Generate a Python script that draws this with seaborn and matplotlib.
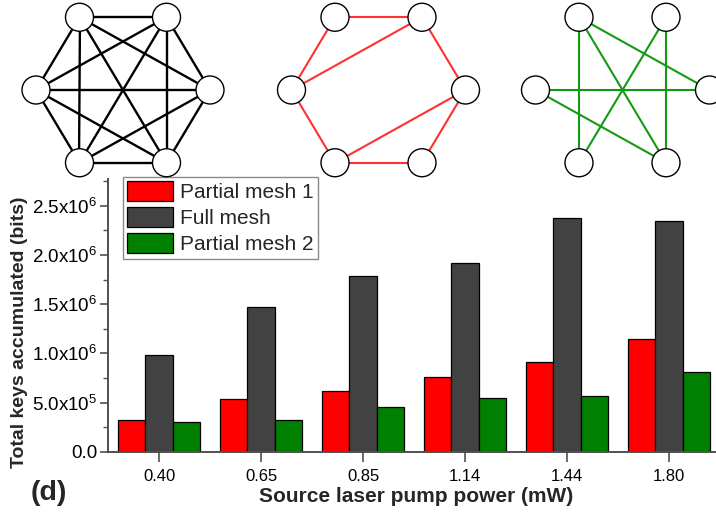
import itertools
import numpy as np
import pandas as pd
import matplotlib
matplotlib.use("Agg")
import matplotlib.pyplot as plt
from matplotlib.patches import Circle
from matplotlib.ticker import MultipleLocator
import seaborn as sns

# ---- data -------------------------------------------------------------
powers = ["0.40", "0.65", "0.85", "1.14", "1.44", "1.80"]
partial_mesh_1 = [3.2e5, 5.4e5, 6.2e5, 7.6e5, 9.1e5, 1.15e6]
full_mesh = [9.8e5, 1.47e6, 1.79e6, 1.92e6, 2.37e6, 2.34e6]
partial_mesh_2 = [3.0e5, 3.2e5, 4.6e5, 5.5e5, 5.7e5, 8.1e5]

series_names = ["Partial mesh 1", "Full mesh", "Partial mesh 2"]
series_colors = ["#ff0000", "#424242", "#008000"]

y_ticks = [0, 5e5, 1e6, 1.5e6, 2e6, 2.5e6]
y_tick_labels = ["0.0", r"5.0x10$^{5}$", r"1.0x10$^{6}$", r"1.5x10$^{6}$",
                 r"2.0x10$^{6}$", r"2.5x10$^{6}$"]

# network topologies; nodes: 0 top-left, 1 top-right, 2 left, 3 right,
# 4 bottom-left, 5 bottom-right
full_edges = list(itertools.combinations(range(6), 2))
partial1_edges = [(0, 1), (0, 2), (2, 1), (1, 3), (2, 4), (4, 3), (4, 5), (5, 3)]
partial2_edges = [(0, 3), (0, 4), (0, 5), (1, 4), (1, 5), (2, 3), (2, 5)]
node_angles_deg = [120, 60, 180, 0, 240, 300]

# ---- style ------------------------------------------------------------
sns.set_style("ticks")
plt.rcParams["font.family"] = ["Liberation Sans", "DejaVu Sans"]
plt.rcParams["mathtext.fontset"] = "custom"
plt.rcParams["mathtext.rm"] = "Liberation Sans"
plt.rcParams["mathtext.it"] = "Liberation Sans:italic"
plt.rcParams["mathtext.bf"] = "Liberation Sans:bold"

W, H = 716, 517
fig = plt.figure(figsize=(W / 100, H / 100), dpi=100)

ax_left, ax_right, ax_top, ax_bottom = 108, 716, 179, 452
ax = fig.add_axes([ax_left / W, (H - ax_bottom) / H,
                   (ax_right - ax_left) / W, (ax_bottom - ax_top) / H])

df = pd.DataFrame({
    "power": powers * 3,
    "keys": partial_mesh_1 + full_mesh + partial_mesh_2,
    "mesh": [series_names[0]] * 6 + [series_names[1]] * 6 + [series_names[2]] * 6,
})

sns.barplot(data=df, x="power", y="keys", hue="mesh", order=powers,
            hue_order=series_names, palette=series_colors, saturation=1,
            edgecolor="black", linewidth=0.9, width=0.8, errorbar=None, ax=ax)

ax.set_xlim(-0.5, 5.46)
ax.set_ylim(0, 2.77e6)
ax.set_yticks(y_ticks)
ax.set_yticklabels(y_tick_labels)
ax.yaxis.set_minor_locator(MultipleLocator(2.5e5))

spine_color = "#505050"
for side in ["top", "right"]:
    ax.spines[side].set_visible(False)
for side in ["left", "bottom"]:
    ax.spines[side].set_color(spine_color)
    ax.spines[side].set_linewidth(1.4)

ax.tick_params(axis="y", which="major", direction="out", length=6, width=1.2,
               color=spine_color, pad=1.5, labelsize=13.5, labelcolor="black")
ax.tick_params(axis="y", which="minor", direction="out", length=3.5, width=1.0,
               color=spine_color)
ax.tick_params(axis="x", which="major", direction="out", length=7, width=1.2,
               color=spine_color, pad=5.5, labelsize=12, labelcolor="black")

ax.set_xlabel("Source laser pump power (mW)", fontsize=15, fontweight="bold")
ax.set_ylabel("Total keys accumulated (bits)", fontsize=14, fontweight="bold")
ax.xaxis.set_label_coords(0.507, -0.128)
ax.yaxis.set_label_coords(-0.132, 0.44)

handles, labels = ax.get_legend_handles_labels()
if ax.get_legend() is not None:
    ax.get_legend().remove()
leg = ax.legend(handles, labels, loc="upper left",
                bbox_to_anchor=(123 / W, 1 - 177 / H), bbox_transform=fig.transFigure,
                fontsize=15, handlelength=2.2, handleheight=1.1,
                handletextpad=0.35, labelspacing=0.24, borderpad=0.2,
                borderaxespad=0, frameon=True, fancybox=False, framealpha=1)
leg.get_frame().set_edgecolor("#8a8a8a")
leg.get_frame().set_linewidth(1.0)

fig.text(31 / W, 1 - 493 / H, "(d)", fontsize=20.5, fontweight="bold",
         ha="left", va="center")

# ---- network diagrams above the chart ---------------------------------
ov = fig.add_axes([0, 0, 1, 1], facecolor="none")
ov.set_xlim(0, W)
ov.set_ylim(H, 0)
ov.axis("off")

node_r = 14
rx, ry = 87, 84
diagrams = [
    (123, full_edges, "black", 1.7),
    (378.5, partial1_edges, "#ff3030", 1.5),
    (622.5, partial2_edges, "#139a13", 1.5),
]
ang = np.deg2rad(node_angles_deg)
for cx, edges, color, lw in diagrams:
    xs = cx + rx * np.cos(ang)
    ys = 90 - ry * np.sin(ang)
    for i, j in edges:
        ov.plot([xs[i], xs[j]], [ys[i], ys[j]], color=color, lw=lw,
                solid_capstyle="butt", zorder=1)
    for x, y in zip(xs, ys):
        ov.add_patch(Circle((x, y), node_r, facecolor="white",
                            edgecolor="black", lw=1.0, zorder=2))

fig.savefig("out.png", dpi=100)
